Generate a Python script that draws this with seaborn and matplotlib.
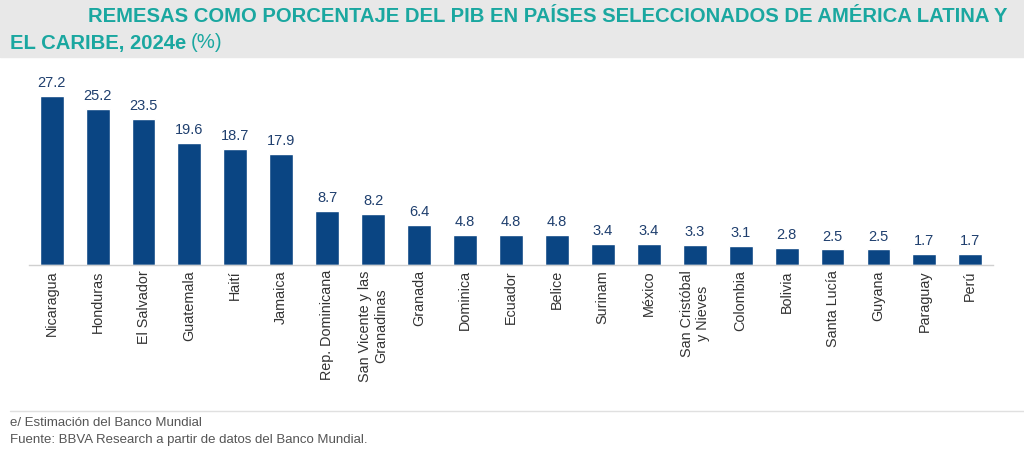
import numpy as np
import pandas as pd
import seaborn as sns
import matplotlib.pyplot as plt
from matplotlib.patches import Rectangle
from matplotlib.lines import Line2D

# datos
paises = ["Nicaragua", "Honduras", "El Salvador", "Guatemala", "Haití", "Jamaica",
          "Rep. Dominicana", "San Vicente y las\nGranadinas", "Granada", "Dominica",
          "Ecuador", "Belice", "Surinam", "México", "San Cristóbal\ny Nieves",
          "Colombia", "Bolivia", "Santa Lucía", "Guyana", "Paraguay", "Perú"]
remesas = [27.2, 25.2, 23.5, 19.6, 18.7, 17.9, 8.7, 8.2, 6.4, 4.8, 4.8, 4.8,
           3.4, 3.4, 3.3, 3.1, 2.8, 2.5, 2.5, 1.7, 1.7]

df = pd.DataFrame({"pais": paises, "remesas": remesas})

sns.set_style("white")
plt.rcParams['font.family'] = ['Liberation Sans', 'DejaVu Sans']

fig = plt.figure(figsize=(10.24, 4.56), dpi=100)
ax = fig.add_axes([0.028, 0.4167, 0.942, 0.408])

sns.barplot(data=df, x="pais", y="remesas", color="#0a4583", width=0.52,
            saturation=1, ax=ax)
ax.bar_label(ax.containers[0], fmt="%.1f", padding=5, fontsize=10.5,
             color="#1f3f6e")

ax.set_ylim(0, 30)
ax.set_xlim(-0.5, len(paises) - 0.5)
ax.set_xlabel("")
ax.set_ylabel("")
ax.set_yticks([])
for s in ["top", "right", "left"]:
    ax.spines[s].set_visible(False)
ax.spines["bottom"].set_color("#d0d0d0")
ax.spines["bottom"].set_linewidth(1)

# ticks entre categorias
ax.set_xticks(np.arange(len(paises)))
ax.set_xticklabels(paises, rotation=90, fontsize=10.4, color="#333333",
                   multialignment="center")
ax.tick_params(axis="x", length=0, pad=3)
ax.set_xticks(np.arange(len(paises) + 1) - 0.5, minor=True)
ax.tick_params(axis="x", which="minor", length=4, color="#d0d0d0", direction="out")

# banda del titulo
fig.patches.append(Rectangle((0, 1 - 58 / 456), 1, 58 / 456, transform=fig.transFigure,
                             color="#e8e8e8", zorder=0))
teal = "#1aa7a0"
fig.text(88 / 1024, 1 - 17 / 456,
         "REMESAS COMO PORCENTAJE DEL PIB EN PAÍSES SELECCIONADOS DE AMÉRICA LATINA Y",
         fontsize=14.6, fontweight="bold", color=teal, va="center")
t2 = fig.text(10 / 1024, 1 - 43 / 456, "EL CARIBE, 2024e", fontsize=14.6,
              fontweight="bold", color=teal, va="center")
fig.canvas.draw()
bb = t2.get_window_extent().transformed(fig.transFigure.inverted())
fig.text(bb.x1 + 4 / 1024, 1 - 43 / 456, "(%)", fontsize=14.6, color=teal, va="center")

# pie
fig.lines.append(Line2D([10 / 1024, 1], [1 - 412 / 456, 1 - 412 / 456],
                        transform=fig.transFigure, color="#e0e0e0", linewidth=1))
fig.text(10 / 1024, 1 - 423 / 456, "e/ Estimación del Banco Mundial", fontsize=9.5,
         color="#555555", va="center")
fig.text(10 / 1024, 1 - 440 / 456, "Fuente: BBVA Research a partir de datos del Banco Mundial.",
         fontsize=9.5, color="#555555", va="center")

plt.savefig("out.png", dpi=100)
